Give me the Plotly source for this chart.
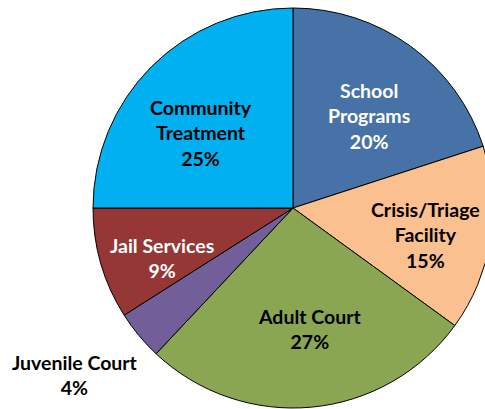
import plotly.graph_objects as go

categories = ["School Programs", "Crisis/Triage Facility", "Adult Court",
              "Juvenile Court", "Jail Services", "Community Treatment"]
display_labels = ["School<br>Programs", "Crisis/Triage<br>Facility", "Adult Court",
                  "Juvenile Court", "Jail Services", "Community<br>Treatment"]
values = [20, 15, 27, 4, 9, 25]
colors = ["#4672A8", "#FAC090", "#8AA653", "#725E98", "#943735", "#00B0F0"]
text_colors = ["white", "black", "black", "black", "white", "black"]

# label centres in pixels (layout only)
label_pos = {
    "School Programs": (369, 116),
    "Crisis/Triage Facility": (425, 235),
    "Adult Court": (309, 329),
    "Juvenile Court": (75, 375),
    "Jail Services": (162, 258),
    "Community Treatment": (201, 133),
}

W, H = 500, 415
cx, cy, R = 293, 208, 200
FONT = "Lato"
FS = 19.5

fig = go.Figure(go.Pie(
    labels=categories,
    values=values,
    textinfo="none",
    sort=False,
    direction="clockwise",
    rotation=0,
    marker=dict(colors=colors, line=dict(color="black", width=1)),
    hoverinfo="label+percent",
    domain=dict(x=[(cx - R) / W, (cx + R) / W], y=[(H - cy - R) / H, (H - cy + R) / H]),
    showlegend=False,
))

for i, cat in enumerate(categories):
    px, py = label_pos[cat]
    fig.add_annotation(
        x=px / W, y=1 - py / H, xref="paper", yref="paper",
        xanchor="center", yanchor="middle",
        text=f"<b>{display_labels[i]}<br>{values[i]}%</b>", showarrow=False,
        font=dict(family=FONT, size=FS, color=text_colors[i]), align="center",
    )

fig.update_layout(
    width=W, height=H,
    margin=dict(l=0, r=0, t=0, b=0),
    paper_bgcolor="white",
    font=dict(family=FONT, size=FS, color="black"),
)

fig.write_html(
    "out.html",
    config={"displayModeBar": False},
    post_script="document.body.style.margin='0';document.body.style.overflow='hidden';document.documentElement.style.overflow='hidden';",
)
